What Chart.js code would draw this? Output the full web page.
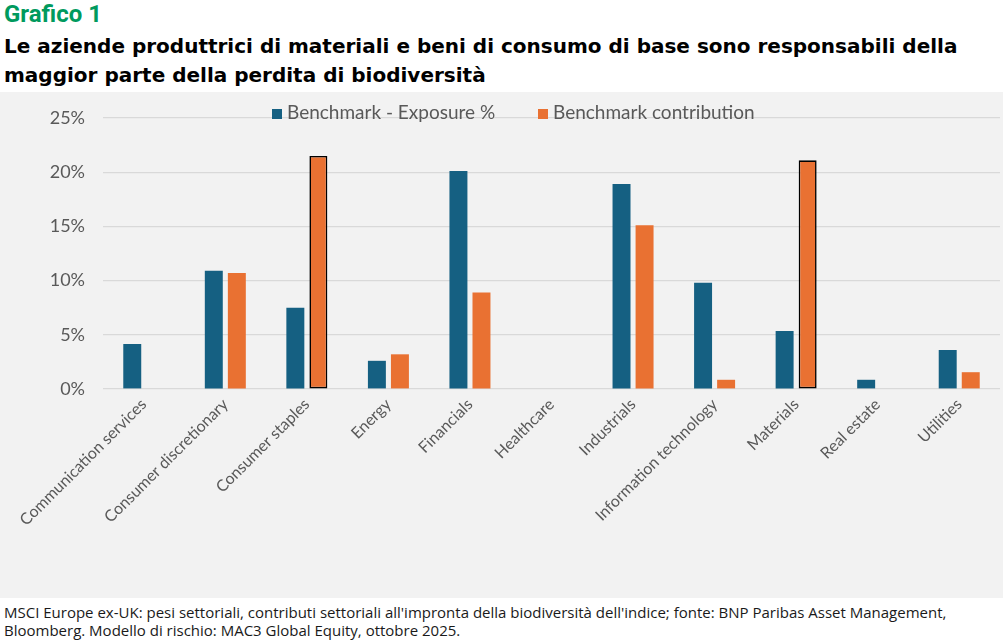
<!DOCTYPE html>
<html>
<head>
<meta charset="utf-8">
<script src="https://cdn.jsdelivr.net/npm/chart.js@4.4.1/dist/chart.umd.min.js"></script>
<style>
  html, body { margin: 0; padding: 0; background: #ffffff; }
  body { width: 1003px; height: 643px; position: relative; overflow: hidden; font-family: "Roboto", "DejaVu Sans", sans-serif; }
  #kicker { position: absolute; left: 4px; top: 0px; font: 700 24px "Roboto", sans-serif; color: #009a5e; }
  #title { position: absolute; left: 4px; top: 32px; width: 1000px; white-space: nowrap; font: 700 20px/29px "DejaVu Sans", sans-serif; color: #000; }
  #panel { position: absolute; left: 0; top: 92px; width: 1003px; height: 506px; background: #f2f2f2; }
  #legend { position: absolute; top: 100px; left: 272px; font: 400 19px "Lato", sans-serif; color: #595959; white-space: nowrap; }
  .item { position: absolute; top: 0; white-space: nowrap; }
  .sw { display: inline-block; width: 10px; height: 10px; margin-right: 5px; vertical-align: 0px; }
  #footer { position: absolute; left: 4px; top: 603px; font: 400 15px/18px "Open Sans", sans-serif; color: #1a1a1a; }
</style>
</head>
<body>
<div id="kicker">Grafico 1</div>
<div id="title">Le aziende produttrici di materiali e beni di consumo di base sono responsabili della<br>maggior parte della perdita di biodiversità</div>
<div id="panel"><canvas id="c"></canvas></div>
<div id="legend">
  <span class="item" style="left:0px"><span class="sw" style="background:#156082"></span>Benchmark - Exposure %</span>
  <span class="item" style="left:266px"><span class="sw" style="background:#e97132"></span>Benchmark contribution</span>
</div>
<div id="footer">MSCI Europe ex-UK: pesi settoriali, contributi settoriali all'impronta della biodiversità dell'indice; fonte: BNP Paribas Asset Management,<br>Bloomberg. Modello di rischio: MAC3 Global Equity, ottobre 2025.</div>
<script>
const categories = ["Communication services", "Consumer discretionary", "Consumer staples", "Energy", "Financials", "Healthcare", "Industrials", "Information technology", "Materials", "Real estate", "Utilities"];
const exposure = [4.15, 10.9, 7.5, 2.6, 20.1, null, 18.9, 9.8, 5.35, 0.85, 3.6];
const contribution = [null, 10.7, 21.5, 3.2, 8.9, null, 15.1, 0.85, 21.1, null, 1.55];
const highlighted = ["Consumer staples", "Materials"];
const yTicks = [0, 5, 10, 15, 20, 25];

const orangeBorderWidth = categories.map(c => highlighted.includes(c) ? 1.6 : 0);
const orangeBorderColor = categories.map(c => highlighted.includes(c) ? "#000000" : "rgba(0,0,0,0)");

new Chart(document.getElementById("c"), {
  type: "bar",
  data: {
    labels: categories,
    datasets: [
      { label: "Benchmark - Exposure %", data: exposure, backgroundColor: "#156082", borderWidth: 0 },
      { label: "Benchmark contribution", data: contribution, backgroundColor: "#e97132",
        borderColor: orangeBorderColor, borderWidth: orangeBorderWidth, borderSkipped: false }
    ]
  },
  options: {
    responsive: true,
    maintainAspectRatio: false,
    animation: false,
    layout: { padding: { top: 26, right: 3, left: 0, bottom: 0 } },
    datasets: { bar: { categoryPercentage: 0.565, barPercentage: 0.78 } },
    plugins: { legend: { display: false }, tooltip: { enabled: false } },
    scales: {
      x: {
        grid: { display: false, drawTicks: false },
        border: { display: false },
        ticks: { color: "#595959", font: { family: "Lato", size: 16 }, maxRotation: 45, minRotation: 45, autoSkip: false, padding: 6 },
        afterFit(scale) { scale.height = 209; }
      },
      y: {
        min: 0, max: 25,
        afterBuildTicks(scale) { scale.ticks = yTicks.map(v => ({ value: v })); },
        grid: { color: "#d9d9d9", lineWidth: 1.2, drawTicks: false },
        border: { display: false },
        ticks: { color: "#595959", font: { family: "Lato", size: 18 }, padding: 18, callback: v => v + "%" },
        afterFit(scale) { scale.width = 103; scale.paddingTop = 0; scale.paddingBottom = 0; }
      }
    }
  }
});
</script>
</body>
</html>
